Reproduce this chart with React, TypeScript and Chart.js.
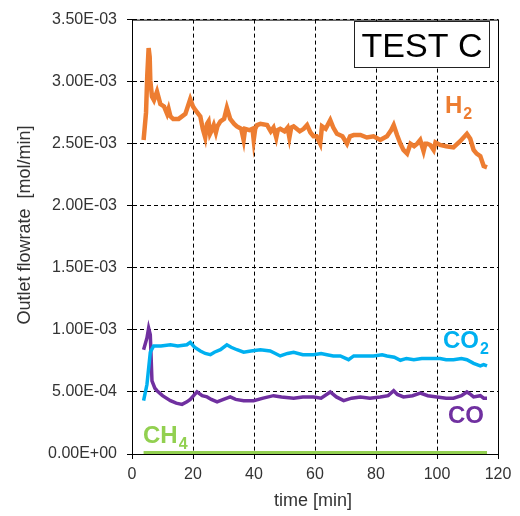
import React, { useEffect, useRef } from "react";
import { Chart, registerables } from "chart.js";

Chart.register(...registerables);

// time [min]
const H2_T = [3.8, 4.6, 5.0, 5.45, 5.8, 6.0, 6.55, 7.2, 8.2, 9.3, 10.5, 11.5, 12.0, 12.6, 13.5, 15.3, 17.5, 19.1, 20.0, 20.8, 22.4, 23.2, 24.0, 24.6, 25.1, 25.6, 26.0, 26.8, 27.5, 28.0, 29.0, 30.2, 31.1, 32.2, 33.5, 34.4, 35.8, 36.6, 37.1, 38.5, 39.5, 39.9, 40.4, 41.0, 42.1, 44.3, 45.5, 46.4, 47.3, 47.8, 48.6, 50.0, 51.0, 51.6, 52.2, 53.0, 55.0, 56.3, 57.4, 58.5, 59.5, 60.5, 61.7, 62.3, 63.5, 65.0, 66.0, 67.2, 69.0, 70.5, 71.5, 72.7, 74.9, 77.0, 79.2, 81.4, 83.6, 85.0, 85.8, 86.9, 88.0, 89.0, 90.2, 91.3, 92.5, 93.5, 94.5, 95.6, 96.2, 96.8, 97.8, 98.9, 99.5, 101.0, 103.0, 105.4, 107.6, 109.8, 110.9, 112.0, 113.0, 114.2, 115.3, 116.4];
// H2 outlet flowrate [1e-3 mol/min]
const H2_V = [2.53, 2.75, 3.05, 3.27, 3.20, 3.01, 2.88, 2.85, 2.92, 2.82, 2.80, 2.74, 2.78, 2.72, 2.70, 2.70, 2.74, 2.86, 2.80, 2.77, 2.72, 2.62, 2.55, 2.66, 2.68, 2.58, 2.60, 2.65, 2.59, 2.64, 2.68, 2.70, 2.79, 2.70, 2.66, 2.64, 2.62, 2.53, 2.62, 2.61, 2.62, 2.53, 2.62, 2.65, 2.66, 2.65, 2.60, 2.63, 2.55, 2.61, 2.62, 2.60, 2.63, 2.55, 2.63, 2.64, 2.60, 2.62, 2.65, 2.59, 2.56, 2.56, 2.50, 2.64, 2.62, 2.69, 2.63, 2.58, 2.56, 2.50, 2.56, 2.57, 2.57, 2.55, 2.56, 2.53, 2.56, 2.61, 2.65, 2.57, 2.50, 2.45, 2.42, 2.50, 2.48, 2.50, 2.53, 2.44, 2.50, 2.50, 2.49, 2.45, 2.51, 2.49, 2.48, 2.47, 2.52, 2.58, 2.54, 2.45, 2.42, 2.40, 2.32, 2.31];

const CO2_T = [3.8, 4.9, 6.0, 7.1, 9.5, 12.6, 15.0, 18.0, 19.1, 20.5, 22.4, 24.0, 25.7, 27.0, 29.0, 31.1, 32.5, 34.4, 36.6, 39.0, 42.1, 45.3, 47.0, 48.6, 51.0, 53.0, 56.0, 59.5, 62.0, 63.9, 66.0, 68.3, 71.0, 72.7, 76.0, 79.2, 82.0, 83.6, 86.0, 88.0, 90.0, 92.4, 95.0, 98.9, 101.0, 103.0, 105.4, 108.0, 109.8, 112.0, 114.2, 115.3, 116.4];
const CO2_V = [0.43, 0.56, 0.82, 0.87, 0.87, 0.88, 0.87, 0.88, 0.90, 0.86, 0.83, 0.81, 0.80, 0.82, 0.84, 0.88, 0.86, 0.84, 0.82, 0.83, 0.84, 0.83, 0.81, 0.79, 0.81, 0.82, 0.80, 0.80, 0.81, 0.80, 0.79, 0.79, 0.76, 0.79, 0.79, 0.79, 0.80, 0.79, 0.78, 0.755, 0.77, 0.76, 0.77, 0.77, 0.77, 0.76, 0.76, 0.77, 0.76, 0.73, 0.71, 0.72, 0.71];

const CO_T = [3.8, 4.9, 5.45, 6.0, 6.55, 7.5, 8.2, 10.0, 12.6, 14.5, 16.4, 18.0, 19.1, 21.3, 23.0, 24.6, 26.0, 27.9, 30.0, 32.2, 34.0, 36.6, 39.9, 43.0, 46.4, 49.0, 53.0, 56.0, 59.5, 62.0, 65.0, 67.0, 69.4, 72.0, 74.9, 78.0, 81.4, 84.0, 85.8, 87.0, 89.0, 92.0, 94.5, 97.0, 100.0, 103.0, 105.4, 108.0, 109.8, 111.0, 112.0, 114.2, 115.3, 116.4];
const CO_V = [0.84, 0.935, 1.015, 0.96, 0.59, 0.53, 0.51, 0.47, 0.43, 0.41, 0.40, 0.42, 0.44, 0.50, 0.47, 0.46, 0.44, 0.42, 0.44, 0.46, 0.44, 0.43, 0.43, 0.45, 0.47, 0.46, 0.45, 0.46, 0.46, 0.45, 0.50, 0.46, 0.43, 0.45, 0.46, 0.45, 0.46, 0.47, 0.51, 0.48, 0.46, 0.47, 0.49, 0.47, 0.46, 0.45, 0.45, 0.47, 0.50, 0.48, 0.46, 0.47, 0.45, 0.45];

const CH4_T = [3.8, 116.4];
const CH4_V = [0.01, 0.01];

const X_MIN = 0, X_MAX = 120, X_STEP = 20;
const Y_MIN = 0, Y_MAX = 0.0035, Y_STEP = 0.0005;
const SCALE = 1e-3;

const C_H2 = "#ED7D31";
const C_CO2 = "#00B0F0";
const C_CO = "#7030A0";
const C_CH4 = "#92D050";

const FONT = "'Liberation Sans', Arial, sans-serif";

function toPoints(t: number[], v: number[]) {
  return t.map((x, i) => ({ x, y: v[i] * SCALE }));
}

function fmtExp(v: number): string {
  if (Math.abs(v) < 1e-12) return "0.00E+00";
  const s = v.toExponential(2);
  const [m, e] = s.split("e");
  const sign = e[0] === "-" ? "-" : "+";
  const digits = e.replace(/[+-]/, "").padStart(2, "0");
  return `${m}E${sign}${digits}`;
}

function drawSubLabel(ctx: CanvasRenderingContext2D, main: string, sub: string, x: number, y: number, color: string) {
  ctx.save();
  ctx.fillStyle = color;
  ctx.textAlign = "left";
  ctx.textBaseline = "alphabetic";
  ctx.font = `bold 24px ${FONT}`;
  ctx.fillText(main, x, y);
  const w = ctx.measureText(main).width;
  if (sub) {
    ctx.font = `bold 16px ${FONT}`;
    ctx.fillText(sub, x + w + 1, y + 6);
  }
  ctx.restore();
}

const overlayPlugin = {
  id: "overlay",
  afterDraw(chart: any) {
    const { ctx, chartArea } = chart;
    const { left, right, top, bottom } = chartArea;
    ctx.save();
    ctx.strokeStyle = "#000";
    ctx.lineWidth = 1;
    ctx.setLineDash([]);
    ctx.strokeRect(left + 0.5, top + 0.5, right - left, bottom - top);

    // TEST C box
    ctx.fillStyle = "#fff";
    ctx.fillRect(354, 21, 135, 46);
    ctx.strokeStyle = "#222";
    ctx.strokeRect(354.5, 21.5, 135, 46);
    ctx.fillStyle = "#000";
    ctx.font = `34px ${FONT}`;
    ctx.textAlign = "center";
    ctx.textBaseline = "alphabetic";
    ctx.fillText("TEST C", 422, 57);

    // axis titles
    ctx.fillStyle = "#333";
    ctx.font = `18px ${FONT}`;
    ctx.textAlign = "center";
    ctx.textBaseline = "middle";
    ctx.fillText("time [min]", 313, 501);
    ctx.save();
    ctx.translate(25, 225);
    ctx.rotate(-Math.PI / 2);
    ctx.fillText("Outlet flowrate  [mol/min]", 0, 0);
    ctx.restore();

    // series labels
    drawSubLabel(ctx, "H", "2", 445, 113, C_H2);
    drawSubLabel(ctx, "CO", "2", 443, 348, C_CO2);
    drawSubLabel(ctx, "CO", "", 448, 423, C_CO);
    drawSubLabel(ctx, "CH", "4", 143, 443, C_CH4);
    ctx.restore();
  },
};

export default function App() {
  const ref = useRef<HTMLCanvasElement | null>(null);

  useEffect(() => {
    if (!ref.current) return;
    const chart = new Chart(ref.current, {
      type: "line",
      data: {
        datasets: [
          { label: "H2", data: toPoints(H2_T, H2_V), borderColor: C_H2, borderWidth: 4.5, pointRadius: 0, tension: 0, fill: false },
          { label: "CO2", data: toPoints(CO2_T, CO2_V), borderColor: C_CO2, borderWidth: 3.5, pointRadius: 0, tension: 0, fill: false },
          { label: "CO", data: toPoints(CO_T, CO_V), borderColor: C_CO, borderWidth: 3.5, pointRadius: 0, tension: 0, fill: false },
          { label: "CH4", data: toPoints(CH4_T, CH4_V), borderColor: C_CH4, borderWidth: 3.5, pointRadius: 0, tension: 0, fill: false },
        ],
      },
      options: {
        responsive: false,
        animation: false,
        events: [],
        layout: { padding: { left: 0, top: 15, right: 22, bottom: 0 } },
        plugins: {
          legend: { display: false },
          tooltip: { enabled: false },
          title: { display: false },
        },
        scales: {
          x: {
            type: "linear",
            min: X_MIN,
            max: X_MAX,
            ticks: {
              stepSize: X_STEP,
              color: "#333",
              font: { family: FONT, size: 16 },
              padding: 6,
              maxRotation: 0,
            },
            grid: {
              color: "#000",
              lineWidth: 1,
              drawTicks: true,
              tickLength: 5,
              tickColor: "#000",
              tickBorderDash: [],
            },
            border: { display: true, color: "#000", width: 1, dash: [4, 3] },
            afterFit: (scale: any) => {
              scale.height = 62;
            },
          },
          y: {
            type: "linear",
            min: Y_MIN,
            max: Y_MAX,
            ticks: {
              stepSize: Y_STEP,
              color: "#333",
              font: { family: FONT, size: 16 },
              padding: 10,
              callback: (v: any) => fmtExp(Number(v)),
            },
            grid: {
              color: "#000",
              lineWidth: 1,
              drawTicks: true,
              tickLength: 5,
              tickColor: "#000",
              tickBorderDash: [],
            },
            border: { display: true, color: "#000", width: 1, dash: [4, 3] },
            afterFit: (scale: any) => {
              scale.width = 132;
            },
          },
        },
      },
      plugins: [overlayPlugin],
    } as any);
    return () => chart.destroy();
  }, []);

  return (
    <div style={{ position: "fixed", left: 0, top: 0, width: 520, height: 516, background: "#fff" }}>
      <canvas ref={ref} width={520} height={516} style={{ width: 520, height: 516, display: "block" }} />
    </div>
  );
}
